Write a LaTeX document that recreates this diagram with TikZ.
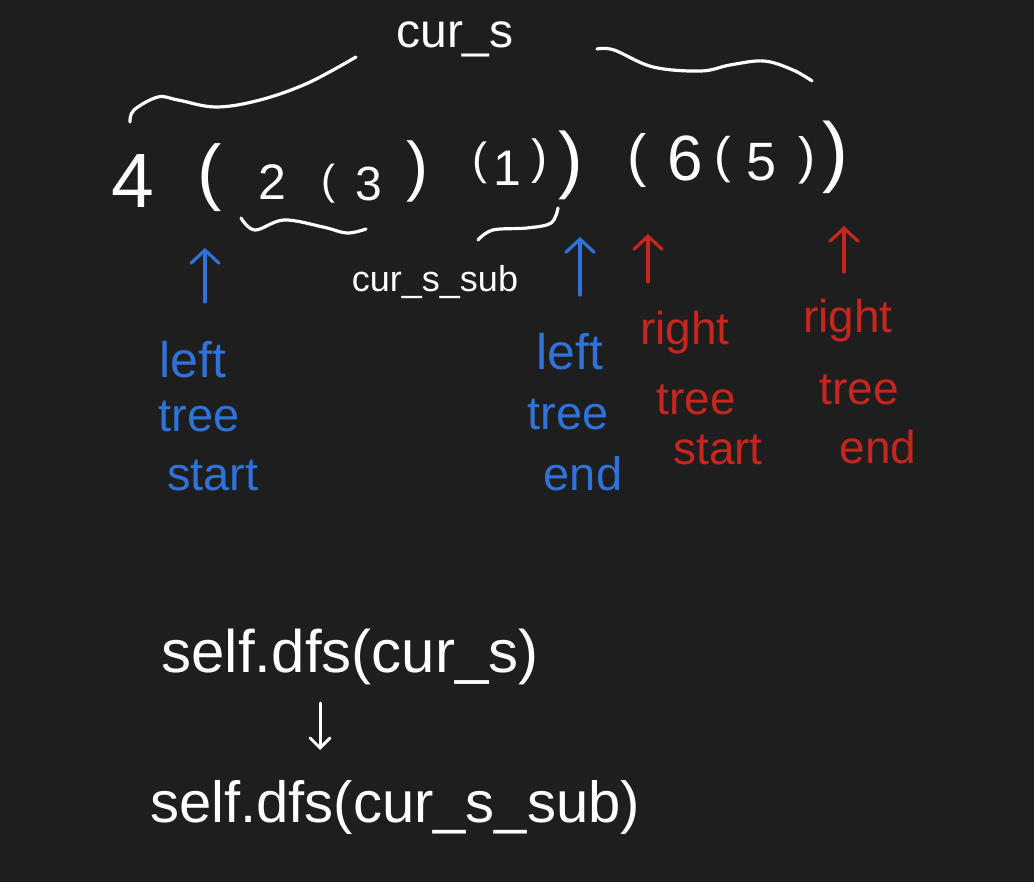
\documentclass[tikz,border=0pt]{standalone}
\usepackage{fontspec}
\setmainfont{Liberation Sans}
\usetikzlibrary{arrows.meta}
\definecolor{bg}{HTML}{1E1E1E}
\definecolor{inkblue}{HTML}{2F72DA}
\definecolor{inkred}{HTML}{C7261F}
\tikzset{
  fs/.style={font=\fontsize{#1}{#1}\selectfont},
  tok/.style={text=white, inner sep=0pt, anchor=center},
  lbl/.style={inner sep=0pt, anchor=base},
  ink/.style={draw=white, line width=3.2pt, line cap=round, line join=round},
  uparrow/.style={line width=3.2pt, line cap=round, line join=round, -{Straight Barb[length=13pt,width=28pt,line cap=round]}},
}
\begin{document}
\begin{tikzpicture}[x=1pt,y=-1pt]
\fill[bg] (0,0) rectangle (1034,882);
\useasboundingbox (0,0) rectangle (1034,882);

% top label and braces
\node[lbl, text=white, fs=48] (curs) at (455,48) {cur\_s};
\draw[ink] plot[smooth, tension=0.6] coordinates {(130,122) (134,110) (158,97) (178,100) (216,107) (260,100) (308,83) (356,57)};
\draw[ink] plot[smooth, tension=0.6] coordinates {(597,49) (614,50) (653,67) (701,71) (730,65) (764,61) (793,70) (812,81)};

% main expression
\node[tok, fs=77] (t4) at (133,181) {4};
\node[tok, fs=73] (p1) at (210,178) {(};
\node[tok, fs=50] (t2) at (272,182) {2};
\node[tok, fs=42] (p2) at (328,184) {(};
\node[tok, fs=48] (t3) at (369,184) {3};
\node[tok, fs=66] (p3) at (417,171) {)};
\node[tok, fs=45] (p4) at (480,163) {(};
\node[tok, fs=50] (t1) at (507,168) {1};
\node[tok, fs=48] (p5) at (539,161) {)};
\node[tok, fs=74] (p6) at (571,165) {)};
\node[tok, fs=58] (p7) at (637,160) {(};
\node[tok, fs=64] (t6) at (685,158) {6};
\node[tok, fs=50] (p8) at (723,160) {(};
\node[tok, fs=54] (t5) at (762,162) {5};
\node[tok, fs=51] (p9) at (807,160) {)};
\node[tok, fs=78] (p10) at (835,157) {)};

% under braces
\draw[ink] plot[smooth, tension=0.6] coordinates {(241,218) (255,230) (284,220) (323,227) (347,233) (366,229)};
\draw[ink] plot[smooth, tension=0.6] coordinates {(558,208) (551,223) (527,228) (493,230) (478,240)};
\node[lbl, text=white, fs=36] (cursub) at (435,292) {cur\_s\_sub};

% arrows
\coordinate (a1b) at (205,302); \coordinate (a1t) at (205,248);
\coordinate (a2b) at (580,295); \coordinate (a2t) at (580,237);
\coordinate (a3b) at (648,282); \coordinate (a3t) at (648,234);
\coordinate (a4b) at (844,272); \coordinate (a4t) at (844,226);
\draw[uparrow, inkblue] (a1b) -- (a1t);
\draw[uparrow, inkblue] (a2b) -- (a2t);
\draw[uparrow, inkred] (a3b) -- (a3t);
\draw[uparrow, inkred] (a4b) -- (a4t);

% labels
\node[lbl, text=inkblue, fs=50] (l1a) at (193,378) {left};
\node[lbl, text=inkblue, fs=47] (l1b) at (199,432) {tree};
\node[lbl, text=inkblue, fs=47] (l1c) at (213,490) {start};
\node[lbl, text=inkblue, fs=50] (l2a) at (570,370) {left};
\node[lbl, text=inkblue, fs=47] (l2b) at (568,430) {tree};
\node[lbl, text=inkblue, fs=47] (l2c) at (583,490) {end};
\node[lbl, text=inkred, fs=46] (l3a) at (685,345) {right};
\node[lbl, text=inkred, fs=46] (l3b) at (696,415) {tree};
\node[lbl, text=inkred, fs=46] (l3c) at (718,465) {start};
\node[lbl, text=inkred, fs=46] (l4a) at (848,333) {right};
\node[lbl, text=inkred, fs=46] (l4b) at (859,405) {tree};
\node[lbl, text=inkred, fs=46] (l4c) at (878,464) {end};

% bottom calls
\node[lbl, text=white, fs=60] (call1) at (350,672) {self.dfs(cur\_s)};
\node[lbl, text=white, fs=58] (call2) at (395,822) {self.dfs(cur\_s\_sub)};
\coordinate (dtop) at (320,703); \coordinate (dbot) at (320,750);
\draw[white, line width=3pt, line cap=round, line join=round, -{Straight Barb[length=10pt,width=20pt,line cap=round]}] (dtop) -- (dbot);
\end{tikzpicture}
\end{document}
